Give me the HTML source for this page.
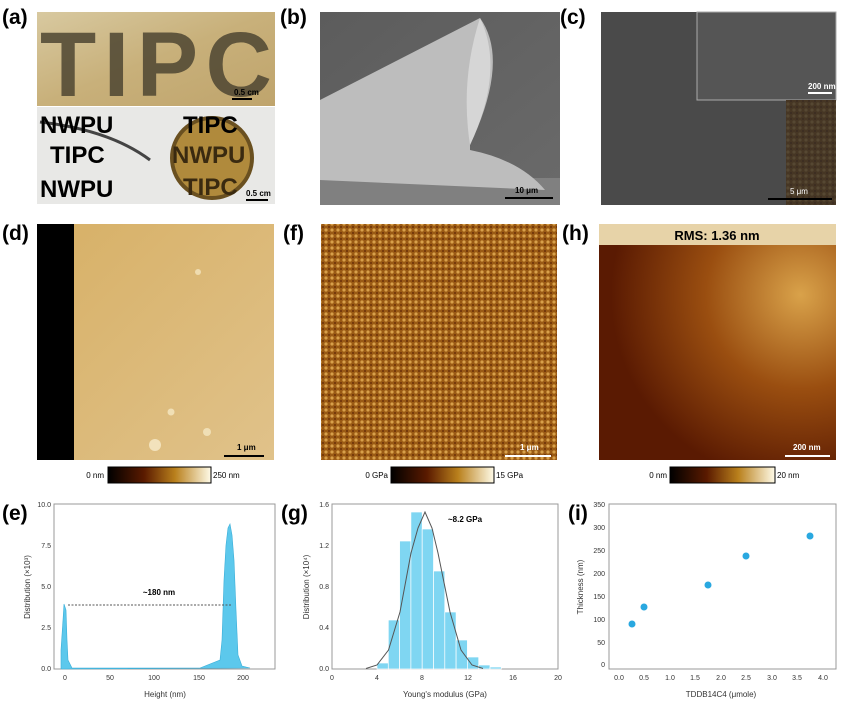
<!DOCTYPE html>
<html><head><meta charset="utf-8"><style>
body{margin:0;background:#fff}
svg{display:block;font-family:"Liberation Sans",Arial,sans-serif}
</style></head><body>
<svg width="847" height="706" viewBox="0 0 847 706" xmlns="http://www.w3.org/2000/svg">
<defs>
<linearGradient id="afm" x1="0" x2="1"><stop offset="0" stop-color="#000"/><stop offset="0.35" stop-color="#5a1a00"/><stop offset="0.65" stop-color="#b9801c"/><stop offset="1" stop-color="#fffbe8"/></linearGradient>
<linearGradient id="ga" x1="0" y1="0" x2="1" y2="1"><stop offset="0" stop-color="#d8c9a0"/><stop offset="0.5" stop-color="#c8b07a"/><stop offset="1" stop-color="#bfa46c"/></linearGradient>
<linearGradient id="gb" x1="0" y1="0" x2="1" y2="1"><stop offset="0" stop-color="#5c5c5c"/><stop offset="1" stop-color="#6a6a6a"/></linearGradient>
<linearGradient id="gd" x1="0" y1="0" x2="1" y2="1"><stop offset="0" stop-color="#d7b066"/><stop offset="1" stop-color="#e0c28a"/></linearGradient>
<radialGradient id="gh" cx="0.85" cy="0.3" r="0.8"><stop offset="0" stop-color="#d9a24a"/><stop offset="0.5" stop-color="#9a4e10"/><stop offset="1" stop-color="#5a1a02"/></radialGradient>
<pattern id="pf" width="6" height="6" patternUnits="userSpaceOnUse"><rect width="6" height="6" fill="#9a5a14"/><circle cx="2" cy="2" r="1.6" fill="#d8a04a"/><circle cx="5" cy="5" r="1" fill="#6a3008"/></pattern>
</defs>

<!-- (a) -->
<text x="2" y="24" font-size="21" font-weight="bold">(a)</text>
<rect x="37" y="12" width="238" height="94" fill="url(#ga)"/>
<text x="40" y="96" font-size="92" font-weight="bold" fill="#4e4632" textLength="232" opacity="0.85">TIPC</text>
<rect x="232" y="98" width="20" height="2" fill="#000"/><text x="234" y="95" font-size="8" font-weight="bold">0.5 cm</text>
<rect x="37" y="107" width="238" height="97" fill="#e8e8e6"/>
<circle cx="212" cy="158" r="40" fill="#b08a3c" stroke="#6a5020" stroke-width="4"/>
<path d="M40 122 Q110 130 150 160" stroke="#444" stroke-width="3" fill="none"/>
<text x="40" y="133" font-size="24" font-weight="bold">NWPU</text>
<text x="183" y="133" font-size="24" font-weight="bold">TIPC</text>
<text x="50" y="163" font-size="24" font-weight="bold">TIPC</text>
<text x="172" y="163" font-size="24" font-weight="bold" fill="#3a2a10">NWPU</text>
<text x="40" y="197" font-size="24" font-weight="bold">NWPU</text>
<text x="183" y="195" font-size="24" font-weight="bold" fill="#3a2a10">TIPC</text>
<rect x="246" y="199" width="22" height="2" fill="#000"/><text x="246" y="196" font-size="8" font-weight="bold">0.5 cm</text>

<!-- (b) -->
<text x="280" y="24" font-size="21" font-weight="bold">(b)</text>
<rect x="320" y="12" width="240" height="193" fill="url(#gb)"/>
<rect x="320" y="178" width="240" height="27" fill="#808080"/>
<path d="M320 100 L480 18 Q510 60 470 145 L470 150 Q520 160 545 190 L320 180 Z" fill="#bdbdbd"/>
<path d="M480 18 Q505 70 470 145 Q460 80 480 18Z" fill="#d6d6d6"/>
<rect x="505" y="197" width="48" height="2" fill="#000"/><text x="515" y="193" font-size="8" font-weight="bold">10 μm</text>

<!-- (c) -->
<text x="560" y="24" font-size="21" font-weight="bold">(c)</text>
<rect x="601" y="12" width="235" height="193" fill="#4a4a4a"/>
<rect x="697" y="12" width="139" height="88" fill="#555" stroke="#aaa" stroke-width="1"/>
<rect x="786" y="100" width="50" height="105" fill="#2a2a2a"/>
<rect x="786" y="100" width="50" height="105" fill="url(#pf)" opacity="0.25"/>
<rect x="808" y="92" width="24" height="2" fill="#fff"/><text x="808" y="89" font-size="8" font-weight="bold" fill="#fff">200 nm</text>
<rect x="768" y="198" width="64" height="2" fill="#000"/><text x="790" y="194" font-size="8" fill="#fff">5 μm</text>

<!-- (d) -->
<text x="2" y="240" font-size="21" font-weight="bold">(d)</text>
<rect x="37" y="224" width="237" height="236" fill="url(#gd)"/>
<rect x="37" y="224" width="37" height="236" fill="#000"/>
<circle cx="155" cy="445" r="6" fill="#f2e2bc"/><circle cx="207" cy="432" r="4" fill="#f0dfb5"/><circle cx="171" cy="412" r="3.5" fill="#f0dfb5"/><circle cx="198" cy="272" r="3" fill="#efdcb0"/>
<rect x="224" y="455" width="40" height="2" fill="#000"/><text x="237" y="450" font-size="8" font-weight="bold">1 μm</text>
<text x="104" y="478" font-size="8" text-anchor="end">0 nm</text>
<rect x="108" y="467" width="103" height="16" fill="url(#afm)" stroke="#000"/>
<text x="213" y="478" font-size="8">250 nm</text>

<!-- (f) -->
<text x="283" y="240" font-size="21" font-weight="bold">(f)</text>
<rect x="321" y="224" width="236" height="236" fill="url(#pf)"/>
<rect x="505" y="455" width="46" height="2" fill="#fff"/><text x="520" y="450" font-size="8" font-weight="bold" fill="#fff">1 μm</text>
<text x="388" y="478" font-size="8" text-anchor="end">0 GPa</text>
<rect x="391" y="467" width="103" height="16" fill="url(#afm)" stroke="#000"/>
<text x="496" y="478" font-size="8">15 GPa</text>

<!-- (h) -->
<text x="562" y="240" font-size="21" font-weight="bold">(h)</text>
<rect x="599" y="224" width="237" height="236" fill="url(#gh)"/>
<rect x="599" y="224" width="237" height="21" fill="#e7d3a8"/>
<text x="717" y="240" font-size="13" font-weight="bold" text-anchor="middle">RMS: 1.36 nm</text>
<rect x="785" y="455" width="45" height="2" fill="#fff"/><text x="793" y="450" font-size="8" font-weight="bold" fill="#fff">200 nm</text>
<text x="667" y="478" font-size="8" text-anchor="end">0 nm</text>
<rect x="670" y="467" width="105" height="16" fill="url(#afm)" stroke="#000"/>
<text x="777" y="478" font-size="8">20 nm</text>

<!-- (e) -->
<text x="2" y="520" font-size="21" font-weight="bold">(e)</text>
<rect x="54" y="504" width="221" height="165" fill="none" stroke="#999"/>
<g font-size="7" fill="#333" text-anchor="end">
<text x="51" y="507">10.0</text><text x="51" y="548">7.5</text><text x="51" y="589">5.0</text><text x="51" y="630">2.5</text><text x="51" y="671">0.0</text></g>
<g font-size="7" fill="#333" text-anchor="middle">
<text x="65" y="680">0</text><text x="110" y="680">50</text><text x="154" y="680">100</text><text x="199" y="680">150</text><text x="243" y="680">200</text></g>
<text x="165" y="697" font-size="8" text-anchor="middle" fill="#333">Height (nm)</text>
<text transform="translate(30,587) rotate(-90)" font-size="8" text-anchor="middle" fill="#333">Distribution (×10³)</text>
<path d="M61 669 L61 650 L63 620 L64 604 L66 610 L67 640 L68 660 L72 668 L200 668 L210 664 L220 660 L222 640 L224 580 L226 545 L228 528 L230 524 L232 535 L234 560 L236 610 L238 655 L242 666 L250 668 Z" fill="#5cc8ec" stroke="#3aaed8" stroke-width="0.6"/>
<line x1="68" y1="605" x2="232" y2="605" stroke="#555" stroke-dasharray="2,1.5"/>
<text x="159" y="595" font-size="8" font-weight="bold" text-anchor="middle">~180 nm</text>

<!-- (g) -->
<text x="281" y="520" font-size="21" font-weight="bold">(g)</text>
<rect x="332" y="504" width="226" height="165" fill="none" stroke="#999"/>
<g font-size="7" fill="#333" text-anchor="end">
<text x="329" y="507">1.6</text><text x="329" y="548">1.2</text><text x="329" y="589">0.8</text><text x="329" y="630">0.4</text><text x="329" y="671">0.0</text></g>
<g font-size="7" fill="#333" text-anchor="middle">
<text x="332" y="680">0</text><text x="377" y="680">4</text><text x="422" y="680">8</text><text x="468" y="680">12</text><text x="513" y="680">16</text><text x="558" y="680">20</text></g>
<text x="445" y="697" font-size="8" text-anchor="middle" fill="#333">Young's modulus (GPa)</text>
<text transform="translate(309,587) rotate(-90)" font-size="8" text-anchor="middle" fill="#333">Distribution (×10⁴)</text>
<g fill="#7fd6f2" stroke="#fff" stroke-width="0.7">
<rect x="377" y="663" width="11.3" height="6"/>
<rect x="388.3" y="620" width="11.3" height="49"/>
<rect x="399.6" y="541" width="11.3" height="128"/>
<rect x="410.9" y="512" width="11.3" height="157"/>
<rect x="422.2" y="529" width="11.3" height="140"/>
<rect x="433.5" y="571" width="11.3" height="98"/>
<rect x="444.8" y="612" width="11.3" height="57"/>
<rect x="456.1" y="640" width="11.3" height="29"/>
<rect x="467.4" y="657" width="11.3" height="12"/>
<rect x="478.7" y="665" width="11.3" height="4"/>
<rect x="490" y="667" width="11.3" height="2"/>
</g>
<polyline points="366,668.5 377,665 388.5,650 400,612 411,553 418,528 425,512 432,528 438,553 450,612 461,650 472,665 483,668.5" fill="none" stroke="#555" stroke-width="1"/>
<text x="448" y="522" font-size="8" font-weight="bold">~8.2 GPa</text>

<!-- (i) -->
<text x="568" y="520" font-size="21" font-weight="bold">(i)</text>
<rect x="609" y="504" width="227" height="165" fill="none" stroke="#999"/>
<g font-size="7" fill="#333" text-anchor="end">
<text x="605" y="507">350</text><text x="605" y="530">300</text><text x="605" y="553">250</text><text x="605" y="576">200</text><text x="605" y="599">150</text><text x="605" y="622">100</text><text x="605" y="645">50</text><text x="605" y="667">0</text></g>
<g font-size="7" fill="#333" text-anchor="middle">
<text x="619" y="680">0.0</text><text x="644" y="680">0.5</text><text x="670" y="680">1.0</text><text x="695" y="680">1.5</text><text x="721" y="680">2.0</text><text x="746" y="680">2.5</text><text x="772" y="680">3.0</text><text x="797" y="680">3.5</text><text x="823" y="680">4.0</text></g>
<text x="721" y="697" font-size="8" text-anchor="middle" fill="#333">TDDB14C4 (μmole)</text>
<text transform="translate(583,587) rotate(-90)" font-size="8" text-anchor="middle" fill="#333">Thickness (nm)</text>
<g fill="#29a8e0">
<circle cx="632" cy="624" r="3.5"/><circle cx="644" cy="607" r="3.5"/><circle cx="708" cy="585" r="3.5"/><circle cx="746" cy="556" r="3.5"/><circle cx="810" cy="536" r="3.5"/>
</g>
</svg>
</body></html>
